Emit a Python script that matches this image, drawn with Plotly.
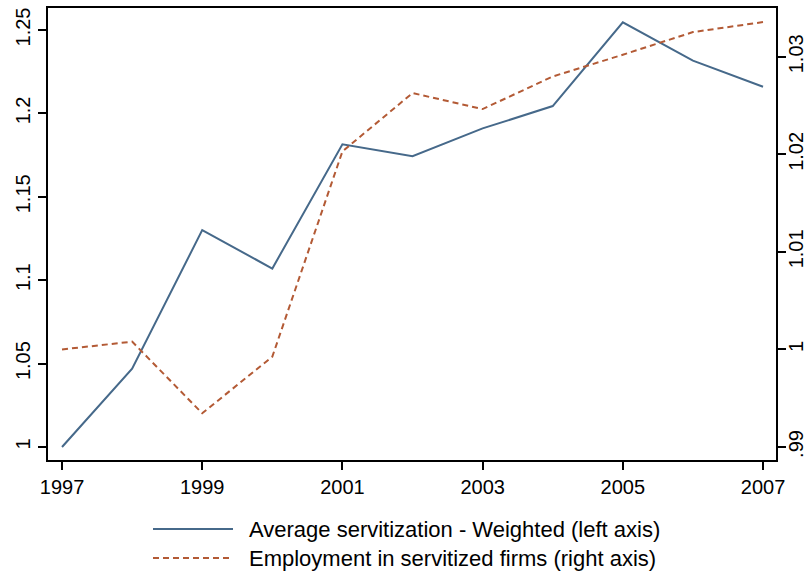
import plotly.graph_objects as go

# Series
years = [1997, 1998, 1999, 2000, 2001, 2002, 2003, 2004, 2005, 2006, 2007]
servitization_weighted = [1.000, 1.047, 1.130, 1.107, 1.1815, 1.1743, 1.191,
                          1.2044, 1.2546, 1.2316, 1.216]
employment_servitized = [1.0000, 1.0008, 0.99346, 0.99926, 1.0203, 1.02628,
                         1.02464, 1.02798, 1.03021, 1.03253, 1.03356]

# Tick labels
x_ticks = [1997, 1999, 2001, 2003, 2005, 2007]
left_ticks = [1.0, 1.05, 1.1, 1.15, 1.2, 1.25]
left_labels = ["1", "1.05", "1.1", "1.15", "1.2", "1.25"]
right_ticks = [0.99, 1.0, 1.01, 1.02, 1.03]
right_labels = [".99", "1", "1.01", "1.02", "1.03"]

legend_names = ["Average servitization - Weighted (left axis)",
                "Employment in servitized firms (right axis)"]

BLUE = "#46698a"
ORANGE = "#b35a35"
FONT = "Liberation Sans, Arial, Helvetica, sans-serif"

W, H = 806, 575
ML, MR, MT, MB = 48, 30, 8, 115
PW, PH = W - ML - MR, H - MT - MB

fig = go.Figure()
fig.add_trace(go.Scatter(x=years, y=servitization_weighted, mode="lines",
                         name=legend_names[0],
                         line=dict(color=BLUE, width=2), yaxis="y"))
fig.add_trace(go.Scatter(x=years, y=employment_servitized, mode="lines",
                         name=legend_names[1],
                         line=dict(color=ORANGE, width=2, dash="6px,4px"),
                         yaxis="y2"))

axis_common = dict(showgrid=False, zeroline=False, showline=True,
                   linecolor="black", linewidth=2, ticks="outside",
                   ticklen=8, tickwidth=2, tickcolor="black")

fig.update_layout(
    width=W, height=H,
    margin=dict(l=ML, r=MR, t=MT, b=MB, autoexpand=False),
    paper_bgcolor="white", plot_bgcolor="white",
    font=dict(family=FONT, color="black", size=20),
    showlegend=False,
    xaxis=dict(**axis_common, range=[1996.80, 2007.185], tickvals=x_ticks,
               ticktext=[str(t) for t in x_ticks], mirror=True,
               tickfont=dict(size=20)),
    yaxis=dict(**axis_common, range=[0.9922, 1.2632], tickvals=left_ticks,
               ticktext=left_labels, tickangle=-90, tickfont=dict(size=20)),
    yaxis2=dict(**axis_common, range=[0.98867, 1.0350], tickvals=right_ticks,
                ticktext=right_labels, tickangle=-90, overlaying="y",
                side="right", tickfont=dict(size=20), ticklabelstandoff=-7),
)


def px_to_paper(px, py):
    return (px - ML) / PW, (H - MB - py) / PH


# Legend keys drawn below the plot
rows = [(529, BLUE, "solid"), (558, ORANGE, "6px,4px")]
for (row_y, color, dash), label in zip(rows, legend_names):
    x0, y0 = px_to_paper(153, row_y)
    x1, _ = px_to_paper(233, row_y)
    fig.add_shape(type="line", xref="paper", yref="paper", x0=x0, x1=x1,
                  y0=y0, y1=y0, line=dict(color=color, width=2, dash=dash))
    tx, _ = px_to_paper(247, row_y)
    fig.add_annotation(xref="paper", yref="paper", x=tx, y=y0, text=label,
                       showarrow=False, xanchor="left", yanchor="middle",
                       font=dict(size=22, family=FONT, color="black"))

fig.write_html("out.html")
